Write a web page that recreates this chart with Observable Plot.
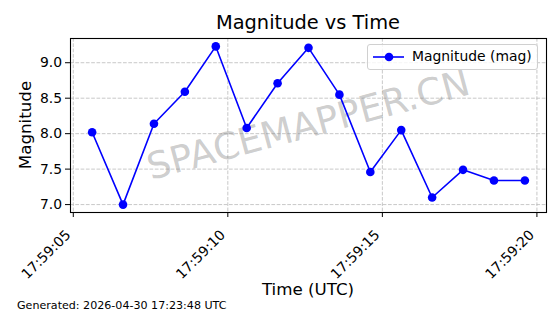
<!DOCTYPE html>
<html><head><meta charset="utf-8">
<script src="https://cdn.jsdelivr.net/npm/d3@7"></script>
<script src="https://cdn.jsdelivr.net/npm/@observablehq/plot@0.6"></script>
<style>
body{margin:0;background:#fff;font-family:"DejaVu Sans",sans-serif;}
#wrap{position:relative;width:560px;height:314px;overflow:hidden;background:#fff;}
#wrap svg{position:absolute;left:0;top:0;}
.abs{position:absolute;white-space:nowrap;color:#000;line-height:1;}
</style></head><body><div id="wrap"></div>
<script>
// seconds after 17:59:00 UTC on 2026-04-30
const seconds = [5.61, 6.61, 7.61, 8.61, 9.61, 10.61, 11.61, 12.61, 13.61, 14.61, 15.61, 16.61, 17.61, 18.61, 19.61];
const magnitudes = [8.02, 7.00, 8.14, 8.59, 9.23, 8.08, 8.71, 9.21, 8.55, 7.46, 8.05, 7.10, 7.49, 7.34, 7.34];
const xTickSeconds = [5, 10, 15, 20];
const yTicks = [7.0, 7.5, 8.0, 8.5, 9.0];
const titleText = "Magnitude vs Time";
const xLabel = "Time (UTC)";
const yLabel = "Magnitude";
const legendLabel = "Magnitude (mag)";
const watermark = "SPACEMAPPER.CN";
const caption = "Generated: 2026-04-30 17:23:48 UTC";

const base = Date.UTC(2026, 3, 30, 17, 59, 0);
const toDate = s => new Date(base + s * 1000);
const data = seconds.map((s, i) => ({time: toDate(s), mag: magnitudes[i]}));
const xTicks = xTickSeconds.map(toDate);

const pad = (lo, hi) => [lo - (hi - lo) * 0.05, hi + (hi - lo) * 0.05];
const [sx0, sx1] = pad(d3.min(seconds), d3.max(seconds));
const [y0, y1] = pad(d3.min(magnitudes), d3.max(magnitudes));

const fmt = d3.utcFormat("%H:%M:%S");
const font = "DejaVu Sans";

const chart = Plot.plot({
  width: 560, height: 314,
  marginLeft: 70, marginRight: 14, marginTop: 38, marginBottom: 102,
  style: {fontFamily: font, color: "#000", background: "transparent", overflow: "visible"},
  x: {type: "utc", domain: [toDate(sx0), toDate(sx1)]},
  y: {domain: [y0, y1]},
  marks: [
    Plot.gridX(xTicks, {stroke: "#b0b0b0", strokeOpacity: 0.7, strokeDasharray: "3.7,1.6", strokeWidth: 1}),
    Plot.gridY(yTicks, {stroke: "#b0b0b0", strokeOpacity: 0.7, strokeDasharray: "3.7,1.6", strokeWidth: 1}),
    Plot.text([watermark], {frameAnchor: "middle", rotate: -15, fontSize: 37, fill: "#808080", fillOpacity: 0.4, fontFamily: font}),
    Plot.line(data, {x: "time", y: "mag", stroke: "#0000ff", strokeWidth: 1.6}),
    Plot.dot(data, {x: "time", y: "mag", r: 4.3, fill: "#0000ff", stroke: "none"}),
    Plot.frame({stroke: "#000", strokeWidth: 1.1}),
    // tick marks only
    Plot.axisX(xTicks, {tickSize: 5, tickFormat: () => "", label: null}),
    // rotated tick labels only
    Plot.axisX(xTicks, {tickSize: 0, tickPadding: 20, dx: -5, tickRotate: -45, tickFormat: fmt, fontSize: 13.9, label: null, fontFamily: font}),
    Plot.axisY(yTicks, {tickSize: 5, tickPadding: 3.5, tickFormat: d3.format(".1f"), fontSize: 13.9, label: null, fontFamily: font})
  ]
});
const wrap = document.getElementById("wrap");
wrap.appendChild(chart);

function addText(txt, css) {
  const d = document.createElement("div");
  d.className = "abs";
  d.textContent = txt;
  Object.assign(d.style, css);
  wrap.appendChild(d);
  return d;
}
addText(titleText, {left: "308px", top: "13px", fontSize: "19.4px", transform: "translateX(-50%)"});
addText(xLabel, {left: "308px", top: "281px", fontSize: "16.7px", transform: "translateX(-50%)"});
addText(yLabel, {left: "25px", top: "125px", fontSize: "16.7px", transform: "translate(-50%,-50%) rotate(-90deg)"});
addText(caption, {left: "17px", top: "300px", fontSize: "11.1px"});

// legend
const lg = document.createElement("div");
lg.className = "abs";
Object.assign(lg.style, {left: "367px", top: "44px", width: "171px", height: "26px", border: "1px solid #d0d0d0", borderRadius: "3px", background: "rgba(255,255,255,0.8)", boxSizing: "border-box"});
lg.innerHTML = `<svg width="36" height="24" style="position:absolute;left:4px;top:0"><line x1="1" y1="12" x2="32" y2="12" stroke="#0000ff" stroke-width="1.6"/><circle cx="17" cy="12" r="4.3" fill="#0000ff"/></svg><span style="position:absolute;left:44px;top:5px;font-size:13.9px;">${legendLabel}</span>`;
wrap.appendChild(lg);
</script></body></html>
